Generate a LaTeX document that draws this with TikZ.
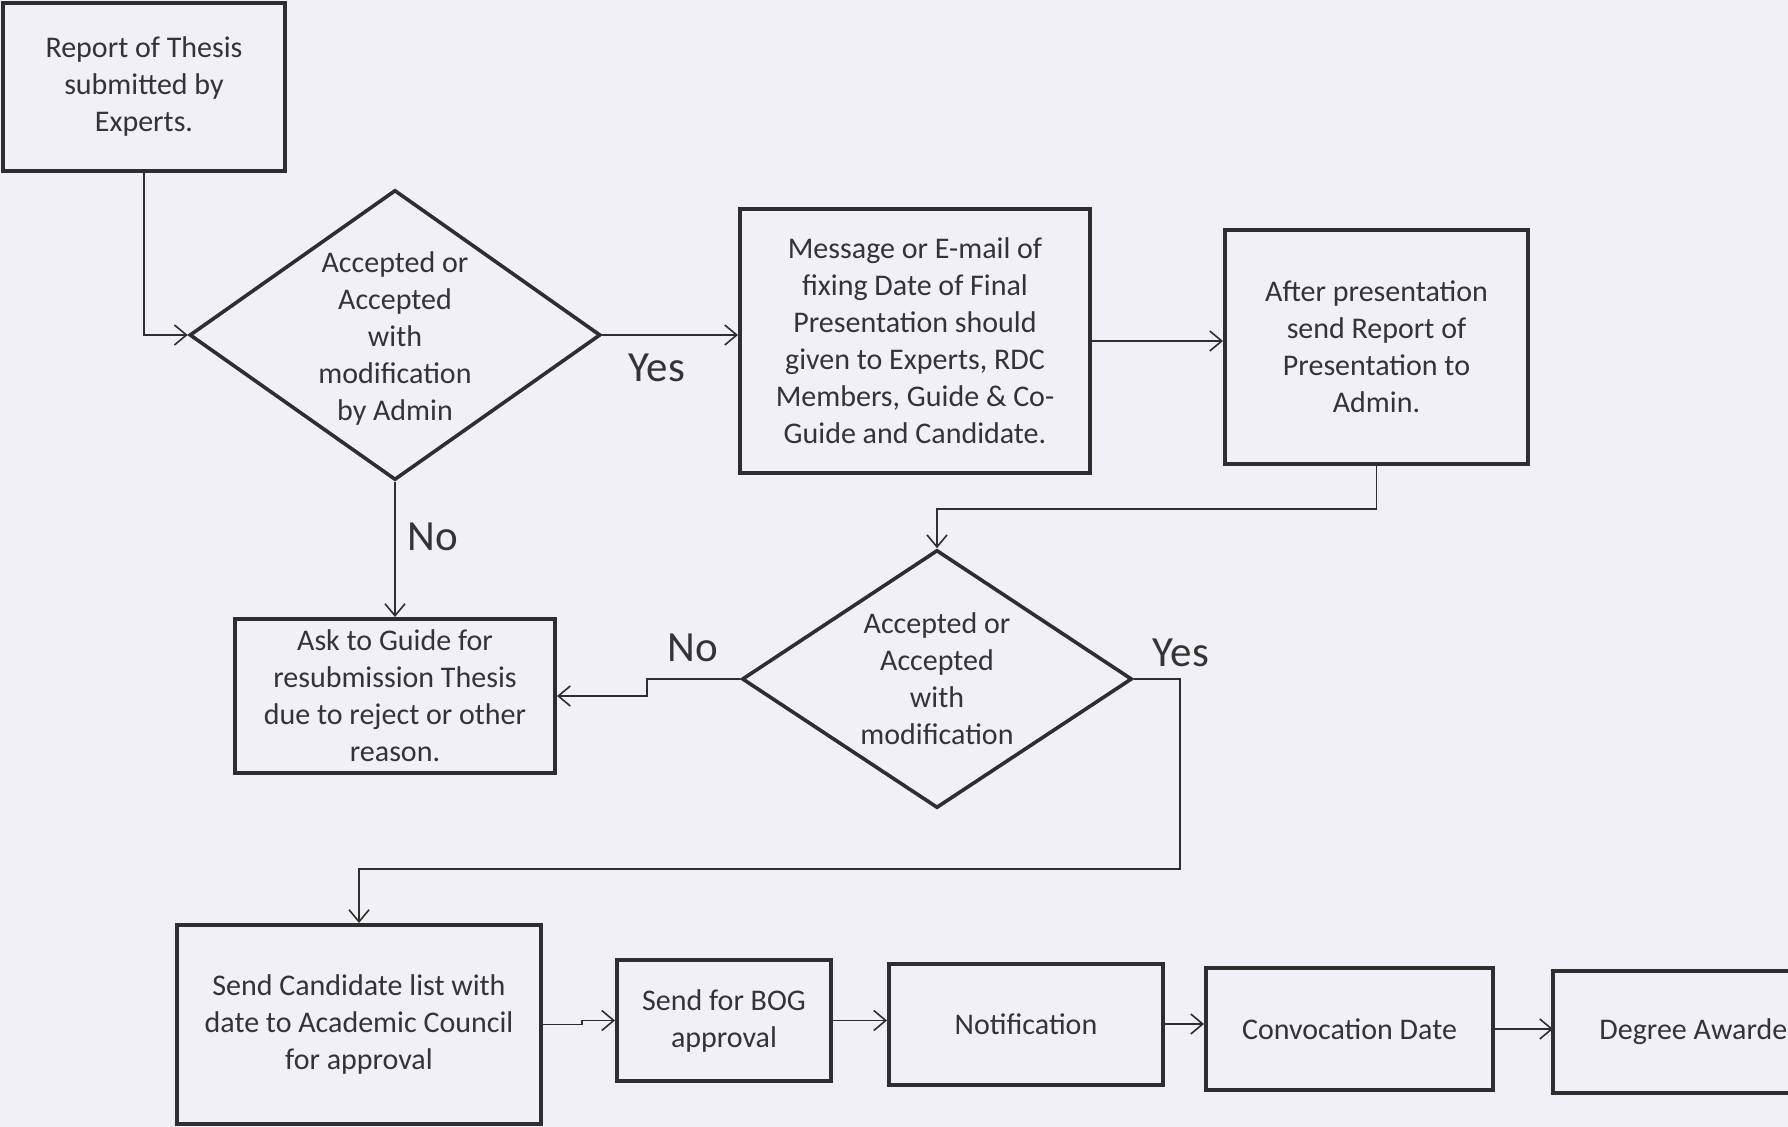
\documentclass[tikz,border=0pt]{standalone}
\usepackage{fontspec}
\setmainfont{Carlito}
\usetikzlibrary{shapes.geometric,arrows.meta,calc}
\definecolor{bg}{RGB}{240,240,246}
\definecolor{ink}{RGB}{46,46,48}
\definecolor{txt}{RGB}{52,52,54}
\begin{document}
\begin{tikzpicture}[x=0.5pt,y=-0.5pt,
 box/.style={draw=ink, line width=2pt, rectangle, align=center, text=txt, font=\fontsize{15}{18.5}\selectfont, inner sep=0pt},
 dia/.style={draw=ink, line width=1.8pt, diamond, inner sep=0pt},
 dtext/.style={align=center, text=txt, font=\fontsize{15}{18.5}\selectfont, inner sep=0pt},
 lbl/.style={text=txt, font=\fontsize{21.5}{24}\selectfont, inner sep=0pt},
 conn/.style={draw=ink, line width=0.8pt, -{Straight Barb[length=6pt,width=10pt,line width=0.8pt]}},
]
\fill[bg] (0,0) rectangle (1788,1127);
\useasboundingbox (0,0) rectangle (1788,1127);

\node[box, minimum width=141pt, minimum height=84pt] (b1) at (144,87) {\raisebox{-1.5pt}{\parbox{130pt}{\centering Report of Thesis\\submitted by\\Experts.}}};
\node[dia, minimum width=205.5pt, minimum height=145pt] (d1) at (395,335) {};
\node[dtext, yshift=-2pt] (d1t) at (d1.center) {Accepted or\\Accepted\\with\\modification\\by Admin};
\node[box, minimum width=175pt, minimum height=132pt] (b2) at (915,341) {Message or E-mail of\\fixing Date of Final\\Presentation should\\given to Experts, RDC\\Members, Guide \& Co-\\Guide and Candidate.};
\node[box, minimum width=151.5pt, minimum height=117pt] (b3) at (1376.5,347) {After presentation\\send Report of\\Presentation to\\Admin.};
\node[dia, minimum width=195pt, minimum height=129pt] (d2) at (937,679) {};
\node[dtext] (d2t) at (d2.center) {Accepted or\\Accepted\\with\\modification};
\node[box, minimum width=160pt, minimum height=77pt] (b4) at (395,696) {Ask to Guide for\\resubmission Thesis\\due to reject or other\\reason.};
\node[box, minimum width=182pt, minimum height=99.5pt] (b5) at (359,1024.5) {Send Candidate list with\\date to Academic Council\\for approval};
\node[box, minimum width=107pt, minimum height=60.5pt] (b6) at (724,1020.5) {Send for BOG\\approval};
\node[box, minimum width=137pt, minimum height=60.5pt] (b7) at (1026,1024) {Notification};
\node[box, minimum width=143.5pt, minimum height=61pt] (b8) at (1349.5,1029) {Convocation Date};
\node[draw=none, inner sep=0pt, minimum width=117.5pt, minimum height=60.5pt, anchor=west] (b9) at (1553,1032) {};
\draw[ink, line width=2pt] (b9.north east) -- (b9.north west) -- (b9.south west) -- (b9.south east);
\node[dtext, anchor=west] (b9t) at (1599,1032) {Degree Awarde};

\node[lbl] (yes1) at (657,368) {Yes};
\node[lbl] (no1) at (433,537) {No};
\node[lbl] (no2) at (693,648) {No};
\node[lbl] (yes2) at (1181,653) {Yes};

\draw[conn] (b1.south) |- (d1.west);
\draw[conn] (d1.east) -- (d1.east -| b2.west);
\draw[conn] (b2.east) -- (b2.east -| b3.west);
\draw[conn] (b3.south) -- ++(0,43) -| (d2.north);
\draw[conn] (d1.south) -- (b4.north);
\draw[conn] (d2.west) -- ++(-93,0) |- (b4.east);
\draw[conn] (d2.east) -- ++(46,0) -- ++(0,190) -| (b5.north);
\draw[conn] (b5.east) -- ++(39,0) |- (b6.west);
\draw[conn] (b6.east) -- (b6.east -| b7.west);
\draw[conn] (b7.east) -- (b7.east -| b8.west);
\draw[conn] (b8.east) -- (b8.east -| b9.west);
\end{tikzpicture}
\end{document}
